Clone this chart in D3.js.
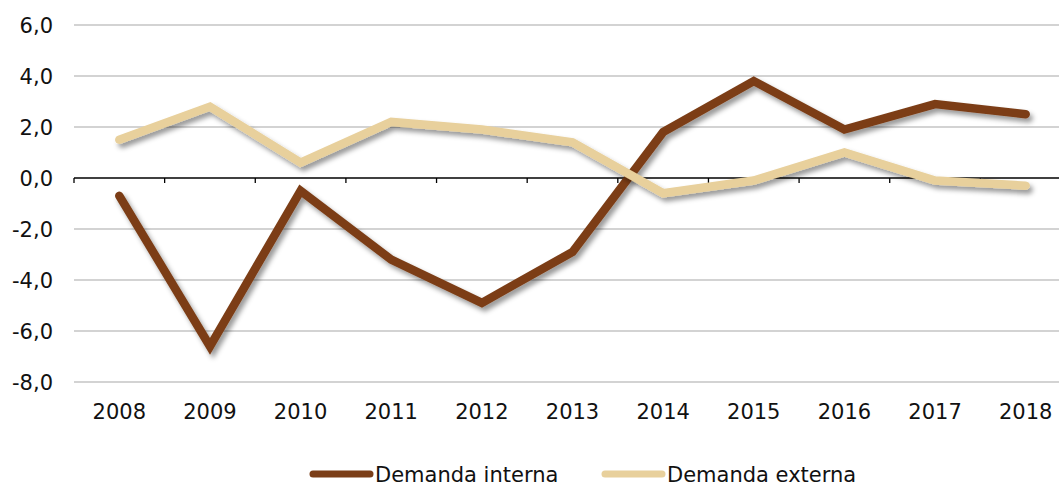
<!DOCTYPE html>
<html>
<head>
<meta charset="utf-8">
<script src="https://cdn.jsdelivr.net/npm/d3@7"></script>
<style>
  html, body { margin: 0; padding: 0; background: #fff; }
  svg { display: block; }
  text { font-family: "DejaVu Sans", Verdana, sans-serif; fill: #111; }
</style>
</head>
<body>
<svg id="chart" width="1059" height="487"></svg>
<script>
const years = ["2008","2009","2010","2011","2012","2013","2014","2015","2016","2017","2018"];
const demandaInterna = [-0.7, -6.6, -0.5, -3.2, -4.9, -2.9, 1.8, 3.8, 1.9, 2.9, 2.5];
const demandaExterna = [1.5, 2.8, 0.6, 2.2, 1.9, 1.4, -0.6, -0.1, 1.0, -0.1, -0.3];
const yTicks = [6, 4, 2, 0, -2, -4, -6, -8];
const seriesNames = ["Demanda interna", "Demanda externa"];
const seriesColors = ["#7B3E18", "#E8D09C"];

const svg = d3.select("#chart");
const W = 1059;

const x = d3.scaleBand().domain(years).range([74, 1071]).padding(0);
const y = d3.scaleLinear().domain([-8, 6]).range([382, 25]);

const defs = svg.append("defs");
const f = defs.append("filter").attr("id", "shadow")
  .attr("x", "-10%").attr("y", "-20%").attr("width", "120%").attr("height", "140%");
f.append("feDropShadow").attr("dx", 3).attr("dy", 4).attr("stdDeviation", 2.5)
  .attr("flood-color", "#000").attr("flood-opacity", 0.4);

// gridlines
svg.append("g").selectAll("line").data(yTicks.filter(d => d !== 0)).join("line")
  .attr("x1", 74).attr("x2", W)
  .attr("y1", d => y(d)).attr("y2", d => y(d))
  .attr("stroke", "#C4C4C4").attr("stroke-width", 1.3);

// y labels
const fmt = d => d3.format(".1f")(d).replace(".", ",").replace("−", "-");
svg.append("g").selectAll("text").data(yTicks).join("text")
  .attr("x", 53).attr("y", d => y(d)).attr("dy", "0.36em")
  .attr("text-anchor", "end").attr("font-size", 21)
  .text(fmt);

// zero axis with ticks at band boundaries
svg.append("line").attr("x1", 74).attr("x2", W)
  .attr("y1", y(0)).attr("y2", y(0)).attr("stroke", "#000").attr("stroke-width", 1.3);
const bounds = years.map(d => x(d));
svg.append("g").selectAll("line").data(bounds).join("line")
  .attr("x1", d => d).attr("x2", d => d)
  .attr("y1", y(0)).attr("y2", y(0) + 5)
  .attr("stroke", "#000").attr("stroke-width", 1.3);

// x labels
svg.append("g").selectAll("text").data(years).join("text")
  .attr("x", d => x(d) + x.bandwidth() / 2).attr("y", 419)
  .attr("text-anchor", "middle").attr("font-size", 21)
  .text(d => d);

// lines
const line = d3.line().x((d, i) => x(years[i]) + x.bandwidth() / 2).y(d => y(d));
[demandaInterna, demandaExterna].forEach((s, k) => {
  svg.append("path").datum(s)
    .attr("d", line)
    .attr("fill", "none")
    .attr("stroke", seriesColors[k])
    .attr("stroke-width", 8.5)
    .attr("stroke-linecap", "round")
    .attr("stroke-linejoin", "miter")
    .attr("filter", "url(#shadow)");
});

// legend
const legendX = [313, 605];
seriesNames.forEach((n, k) => {
  svg.append("line").attr("x1", legendX[k]).attr("x2", legendX[k] + 57)
    .attr("y1", 474).attr("y2", 474)
    .attr("stroke", seriesColors[k]).attr("stroke-width", 7).attr("stroke-linecap", "round");
  svg.append("text").attr("x", legendX[k] + 62).attr("y", 482)
    .attr("font-size", 21).text(n);
});
</script>
</body>
</html>
